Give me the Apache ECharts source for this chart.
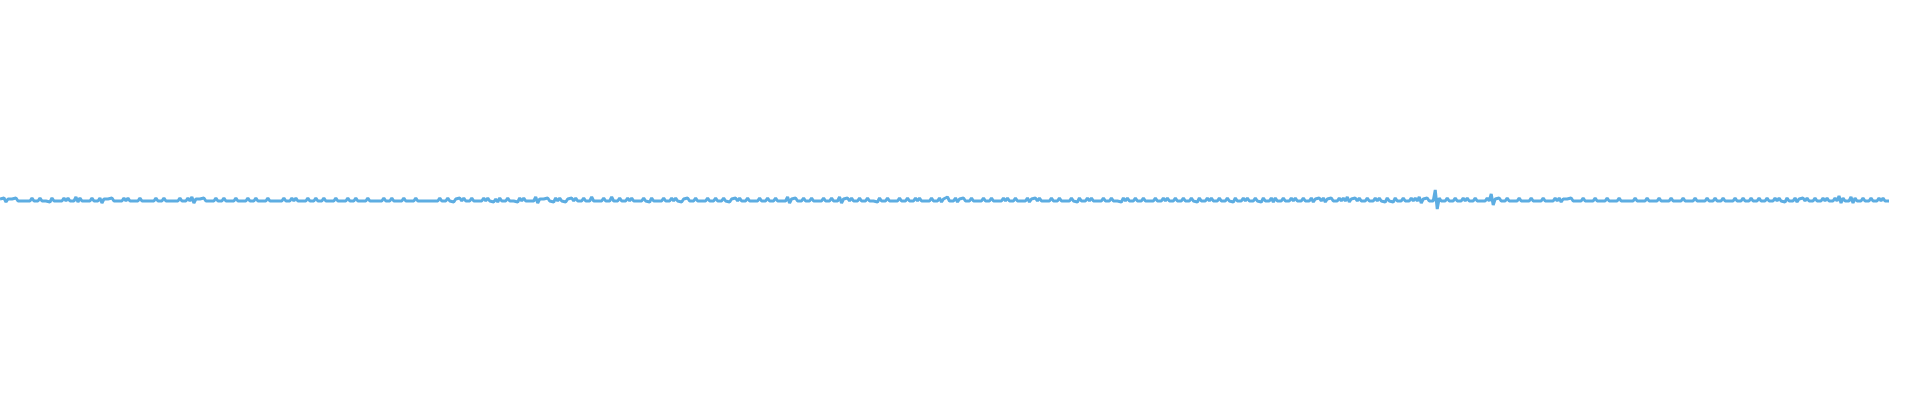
<!DOCTYPE html>
<html>
<head>
<meta charset="utf-8">
<title>waveform</title>
<script src="https://cdn.jsdelivr.net/npm/echarts@6/dist/echarts.min.js"></script>
<style>
    html, body { margin: 0; padding: 0; background: #fff; }
    #wave-chart { width: 1920px; height: 400px; }
</style>
</head>
<body>
<div id="wave-chart"></div>
<script>
// waveform peaks per ~4px column (1 unit ~ 1px)
const peakHigh = [
    1, 2, 1, 1, 2, 1, 1, 1, 2, 1, 2, 1, 1, 2, 1, 1, 2, 2, 1, 3,
    2, 1, 1, 2, 1, 2, 1, 1, 2, 1, 1, 2, 2, 1, 1, 2, 1, 1, 1, 2,
    1, 2, 1, 1, 1, 2, 1, 2, 3, 1, 1, 2, 1, 1, 2, 1, 2, 1, 1, 2,
    1, 1, 2, 1, 2, 1, 1, 2, 1, 1, 1, 2, 1, 2, 2, 1, 1, 2, 1, 2,
    1, 2, 1, 1, 2, 1, 1, 2, 1, 2, 1, 1, 2, 1, 1, 1, 2, 1, 2, 1,
    1, 2, 1, 1, 2, 1, 1, 1, 1, 1, 2, 1, 2, 1, 1, 2, 2, 1, 2, 1,
    1, 2, 2, 1, 1, 2, 1, 2, 1, 1, 2, 2, 1, 1, 3, 1, 1, 2, 1, 2,
    2, 1, 1, 2, 2, 1, 2, 1, 3, 1, 1, 2, 1, 3, 1, 2, 1, 2, 2, 1,
    1, 2, 1, 2, 1, 1, 2, 1, 2, 2, 1, 1, 2, 1, 2, 1, 1, 2, 1, 2,
    1, 2, 1, 1, 2, 2, 1, 2, 1, 1, 2, 1, 2, 1, 2, 1, 1, 3, 1, 2,
    1, 2, 1, 2, 1, 1, 2, 1, 2, 1, 3, 1, 2, 2, 1, 2, 1, 2, 1, 1,
    2, 1, 2, 1, 1, 2, 1, 2, 1, 2, 2, 1, 1, 2, 1, 2, 1, 3, 1, 2,
    1, 2, 1, 2, 1, 1, 2, 1, 2, 1, 1, 2, 2, 1, 2, 1, 1, 2, 1, 2,
    2, 1, 1, 2, 1, 2, 1, 1, 2, 1, 2, 1, 2, 2, 1, 1, 2, 1, 2, 1,
    1, 2, 2, 1, 2, 1, 2, 1, 1, 2, 1, 2, 2, 1, 2, 1, 2, 1, 2, 1,
    2, 1, 2, 2, 1, 2, 1, 2, 1, 2, 1, 2, 2, 1, 2, 1, 2, 1, 2, 2,
    1, 2, 1, 2, 2, 1, 2, 1, 2, 1, 2, 2, 1, 2, 1, 2, 2, 3, 1, 2,
    2, 1, 2, 1, 2, 2, 1, 2, 1, 2, 1, 2, 1, 2, 2, 3, 1, 2, 1, 10,
    2, 1, 2, 1, 2, 1, 2, 2, 1, 2, 1, 1, 2, 6, 1, 2, 1, 2, 1, 1,
    2, 1, 1, 2, 1, 1, 2, 1, 1, 2, 2, 1, 1, 2, 1, 1, 2, 1, 1, 2,
    1, 1, 2, 1, 1, 2, 1, 1, 1, 2, 1, 1, 2, 1, 1, 2, 1, 1, 2, 1,
    1, 2, 1, 1, 2, 1, 1, 2, 1, 2, 1, 2, 1, 1, 2, 1, 2, 1, 2, 1,
    2, 1, 2, 1, 2, 2, 1, 2, 1, 2, 1, 2, 2, 1, 2, 1, 2, 2, 1, 2,
    4, 2, 1, 3, 2, 1, 2, 1, 2, 1, 2, 2, 1,
];
const peakLow = [
    -1, -2, -1, -1, -1, -1, -1, -1, -1, -1, -1, -1, -2, -1, -1, -1, -1, -1, -1, -2,
    -1, -1, -1, -1, -1, -3, -1, -1, -1, -1, -1, -1, -1, -1, -1, -1, -1, -1, -1, -1,
    -1, -1, -1, -1, -1, -1, -1, -1, -3, -1, -1, -1, -1, -1, -1, -1, -1, -1, -1, -1,
    -1, -1, -1, -1, -1, -1, -1, -1, -1, -1, -1, -1, -1, -1, -1, -1, -1, -1, -1, -1,
    -1, -1, -1, -1, -1, -1, -1, -1, -1, -1, -1, -1, -1, -1, -1, -1, -1, -1, -1, -1,
    -1, -1, -1, -1, -1, -1, -1, -1, -1, -1, -1, -1, -1, -2, -1, -1, -1, -1, -1, -1,
    -1, -1, -1, -2, -2, -1, -1, -1, -1, -2, -1, -1, -1, -1, -3, -1, -1, -1, -2, -1,
    -1, -2, -1, -1, -1, -1, -1, -1, -1, -1, -1, -1, -1, -1, -1, -1, -1, -1, -1, -1,
    -1, -1, -2, -1, -1, -1, -1, -1, -1, -1, -2, -1, -1, -1, -1, -1, -1, -1, -1, -1,
    -1, -1, -2, -1, -1, -1, -1, -1, -1, -1, -1, -1, -1, -1, -1, -1, -1, -3, -1, -1,
    -1, -1, -1, -1, -1, -1, -1, -1, -1, -1, -3, -1, -1, -1, -1, -1, -1, -1, -1, -2,
    -1, -1, -1, -1, -1, -1, -1, -1, -1, -1, -1, -1, -1, -1, -1, -2, -1, -1, -1, -2,
    -1, -1, -1, -1, -1, -1, -1, -1, -1, -1, -1, -1, -1, -1, -1, -1, -1, -2, -1, -1,
    -1, -1, -1, -1, -1, -1, -1, -1, -1, -2, -1, -1, -1, -1, -1, -1, -1, -1, -1, -1,
    -2, -1, -1, -1, -1, -1, -1, -1, -1, -1, -1, -1, -1, -1, -1, -1, -1, -1, -1, -2,
    -1, -1, -1, -1, -1, -1, -1, -1, -2, -1, -1, -1, -1, -1, -1, -2, -1, -1, -2, -1,
    -1, -1, -1, -1, -1, -1, -1, -1, -2, -1, -1, -2, -1, -1, -1, -1, -1, -2, -1, -1,
    -1, -1, -1, -1, -1, -1, -2, -1, -2, -1, -1, -1, -1, -1, -1, -3, -1, -1, -1, -9,
    -1, -1, -1, -1, -1, -1, -1, -1, -1, -1, -1, -1, -1, -5, -1, -1, -1, -1, -1, -1,
    -1, -1, -1, -1, -1, -1, -1, -1, -1, -1, -2, -1, -1, -1, -1, -1, -1, -1, -1, -1,
    -1, -1, -1, -1, -1, -1, -1, -1, -1, -1, -1, -1, -1, -1, -1, -1, -1, -1, -1, -1,
    -1, -1, -1, -1, -1, -1, -1, -1, -1, -1, -1, -1, -1, -1, -1, -1, -1, -1, -1, -1,
    -1, -1, -1, -1, -1, -1, -2, -1, -1, -2, -1, -1, -1, -1, -1, -1, -1, -1, -1, -1,
    -3, -1, -1, -3, -1, -1, -1, -1, -1, -1, -1, -1, -1,
];

// the line runs high, low, high, low... through each column
const samples = [];
for (let i = 0; i < peakHigh.length; i++) {
    samples.push(peakHigh[i], peakLow[i]);
}
const sampleIndex = samples.map((v, i) => i);

const chartDom = document.getElementById('wave-chart');
const myChart = echarts.init(chartDom);
const option = {
    backgroundColor: '#fff',
    animation: false,
    grid: {
        top: 60,
        bottom: 60,
        left: 0,
        right: 31,
    },
    xAxis: {
        type: 'category',
        boundaryGap: false,
        show: false,
        data: sampleIndex,
    },
    yAxis: {
        type: 'value',
        min: -140,
        max: 140,
        show: false,
    },
    series: [
        {
            type: 'line',
            symbol: 'none',
            sampling: false,
            lineStyle: {
                color: '#5dade2',
                width: 3,
            },
            data: samples,
        },
    ],
};
myChart.setOption(option);
</script>
</body>
</html>
